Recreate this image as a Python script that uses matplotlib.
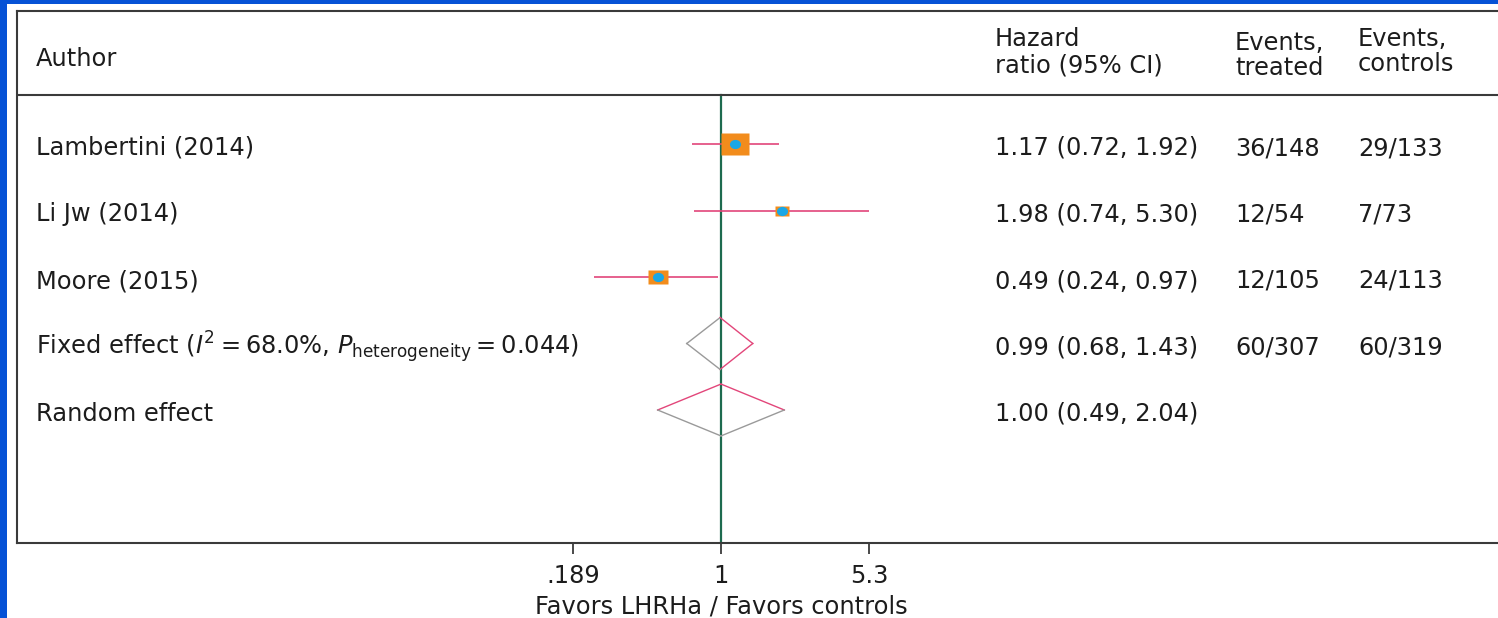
import numpy as np
import matplotlib
matplotlib.use("Agg")
import matplotlib.pyplot as plt
from matplotlib.path import Path
from matplotlib.patches import Rectangle
from matplotlib.ticker import NullLocator

# per-study results
authors = ["Lambertini (2014)", "Li Jw (2014)", "Moore (2015)"]
hr = [1.17, 1.98, 0.49]
ci_low = [0.72, 0.74, 0.24]
ci_high = [1.92, 5.30, 0.97]

# pooled estimates
pooled_labels = [r"Fixed effect ($I^2=68.0\%$, $P_{\mathrm{heterogeneity}}=0.044$)",
                 "Random effect"]
pooled_hr = [0.99, 1.00]
pooled_low = [0.68, 0.49]
pooled_high = [1.43, 2.04]

events_treated = ["36/148", "12/54", "12/105", "60/307", ""]
events_controls = ["29/133", "7/73", "24/113", "60/319", ""]

tick_values = [0.189, 1, 5.3]
tick_labels = [".189", "1", "5.3"]

# colours
blue_bg = "#0652d6"
frame = "#3a3a3a"
green = "#1d6b4f"
pink = "#e2467a"
orange = "#f28c1c"
cyan = "#1aa7e6"
grey = "#9a9a9a"
txt = "#1c1c1c"
FS = 17.4

W, H = 1498, 618
fig = plt.figure(figsize=(W / 100, H / 100), dpi=100, facecolor=blue_bg)
fig.add_artist(Rectangle((7 / W, 0), 1, (H - 4) / H, transform=fig.transFigure,
                         facecolor="white", edgecolor="none", zorder=-5))

# axes box spans from the left frame line to the right edge
ax = fig.add_axes([17 / W, (H - 543) / H, (W - 17) / W, (543 - 11) / H])
ax.set_facecolor("white")


def ypx(p):
    # pixel row -> row units (row 0 at 144 px, 66.5 px per row)
    return (p - 144) / 66.5


def xfrac(p):
    return (p - 17) / (W - 17)


# log scale: 1 sits at 721 px, 88.8 px per log unit
k = 88.8
ax.set_xscale("log")
ax.set_xlim(np.exp((17 - 721) / k), np.exp((W - 721) / k))
ax.set_ylim(ypx(543), ypx(11))

rows = np.arange(5)

# reference line at HR = 1
ax.plot([1, 1], [ypx(95), ypx(543)], color=green, lw=1.6, zorder=2)

# confidence intervals
ax.hlines(rows[:3], ci_low, ci_high, color=pink, lw=1.2, zorder=3)

# study squares, area proportional to inverse-variance weight
se = (np.log(ci_high) - np.log(ci_low)) / (2 * 1.96)
weights = 1 / se ** 2
rect = Path([(-1.35, -1), (1.35, -1), (1.35, 1), (-1.35, 1), (-1.35, -1)],
            [Path.MOVETO, Path.LINETO, Path.LINETO, Path.LINETO, Path.CLOSEPOLY])
circ = Path.unit_circle()
ell = Path(circ.vertices * [1.2, 1.0], circ.codes)
for i in range(3):
    ms = 7.2 * np.sqrt(weights[i]) * 0.72
    ax.plot(hr[i], rows[i], marker=rect, ms=ms, color=orange, mec="none", zorder=4)
    ax.plot(hr[i], rows[i], marker=ell, ms=8, color=cyan, mec="none", zorder=5)

# pooled diamonds
half = 0.39
edge_cols = [[grey, pink, pink, grey], [pink, pink, grey, grey]]
for j in range(2):
    y = rows[3 + j]
    pts = [(pooled_low[j], y), (pooled_hr[j], y - half), (pooled_high[j], y),
           (pooled_hr[j], y + half), (pooled_low[j], y)]
    for e in range(4):
        (x0, y0), (x1, y1) = pts[e], pts[e + 1]
        ax.plot([x0, x1], [y0, y1], color=edge_cols[j][e], lw=1.0, zorder=3)

# header
tr = ax.get_yaxis_transform()
ax.axhline(ypx(95), color=frame, lw=1.5)
ax.text(xfrac(36), ypx(66), "Author", transform=tr, fontsize=FS, color=txt, va="baseline")
ax.text(xfrac(995), ypx(46), "Hazard", transform=tr, fontsize=FS, color=txt, va="baseline")
ax.text(xfrac(995), ypx(73), "ratio (95% CI)", transform=tr, fontsize=FS, color=txt, va="baseline")
ax.text(xfrac(1235), ypx(50), "Events,", transform=tr, fontsize=FS, color=txt, va="baseline")
ax.text(xfrac(1235), ypx(75), "treated", transform=tr, fontsize=FS, color=txt, va="baseline")
ax.text(xfrac(1358), ypx(46), "Events,", transform=tr, fontsize=FS, color=txt, va="baseline")
ax.text(xfrac(1358), ypx(71), "controls", transform=tr, fontsize=FS, color=txt, va="baseline")

# row labels and columns
labels = authors + pooled_labels
all_hr = hr + pooled_hr
all_lo = ci_low + pooled_low
all_hi = ci_high + pooled_high
off = 11 / 66.5
for i in rows:
    ax.text(xfrac(36), i + off, labels[i], transform=tr, fontsize=FS, color=txt, va="baseline")
    ax.text(xfrac(995), i + off, f"{all_hr[i]:.2f} ({all_lo[i]:.2f}, {all_hi[i]:.2f})",
            transform=tr, fontsize=FS, color=txt, va="baseline")
    ax.text(xfrac(1235), i + off, events_treated[i], transform=tr, fontsize=FS, color=txt, va="baseline")
    ax.text(xfrac(1358), i + off, events_controls[i], transform=tr, fontsize=FS, color=txt, va="baseline")

# frame
for s in ["left", "top", "bottom"]:
    ax.spines[s].set_color(frame)
    ax.spines[s].set_linewidth(1.5)
ax.spines["right"].set_visible(False)

ax.set_xticks(tick_values, tick_labels)
ax.xaxis.set_minor_locator(NullLocator())
ax.set_yticks([])
ax.tick_params(axis="x", length=8, width=1.3, color=frame, pad=7, labelsize=FS, labelcolor=txt)

ax.text(1, ypx(613), "Favors LHRHa / Favors controls", fontsize=FS, color=txt,
        ha="center", va="baseline", clip_on=False)

fig.savefig("out.png", dpi=100, facecolor=fig.get_facecolor())
